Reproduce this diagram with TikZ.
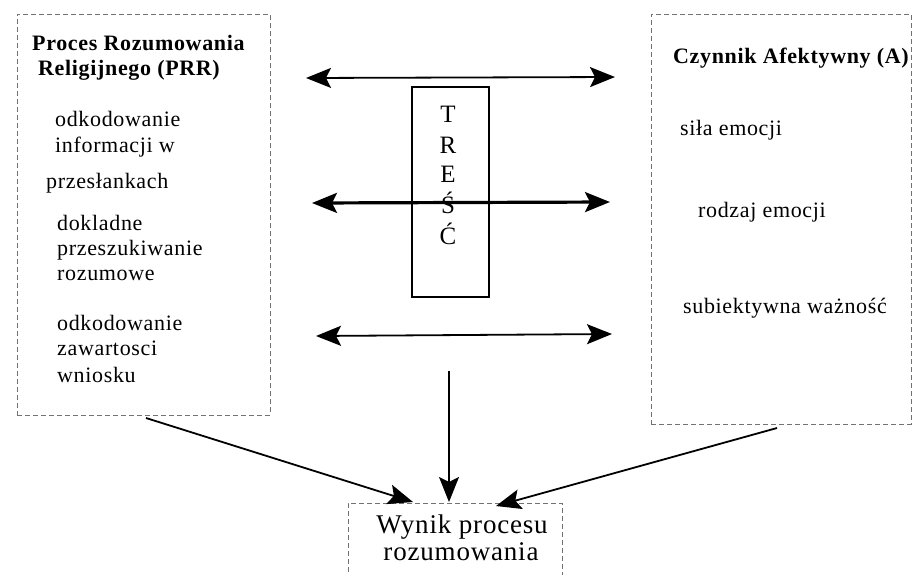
\documentclass[tikz,border=0pt]{standalone}
\usepackage{fontspec}
\setmainfont{Liberation Serif}
\usetikzlibrary{arrows.meta}
\begin{document}
\begin{tikzpicture}[x=1pt,y=-1pt,
  >={Stealth[length=25pt,width=20pt,inset=5pt]},
  box/.style={draw=black!55, dash pattern=on 5pt off 3pt, line width=0.6pt, inner sep=0pt},
  txt/.style={anchor=base west, inner sep=0pt, font=\fontsize{22}{25}\selectfont\addfontfeature{LetterSpace=3}},
  head/.style={anchor=base west, inner sep=0pt, font=\fontsize{22}{25}\selectfont\bfseries\addfontfeature{LetterSpace=3}},
  letter/.style={anchor=base, inner sep=0pt, font=\fontsize{25}{28}\selectfont},
  res/.style={anchor=base, inner sep=0pt, font=\fontsize{27}{30}\selectfont\addfontfeature{LetterSpace=3}},
  arr/.style={line width=1.8pt},
]
\useasboundingbox (0,0) rectangle (913,574);
\clip (0,0) rectangle (913,574);

% boxes
\node[box, minimum width=253pt, minimum height=401pt] (L) at (143.5,214.5) {};
\node[box, minimum width=260pt, minimum height=410pt] (R) at (781,219) {};
\node[box, minimum width=214pt, minimum height=100pt] (W) at (455,553) {};
\node[draw, line width=1.2pt, minimum width=77pt, minimum height=210pt, inner sep=0pt] (T) at (450.5,192) {};

% left box texts
\node[head] (l1) at (32,50) {Proces Rozumowania};
\node[head] (l2) at (38,75) {Religijnego (PRR)};
\node[txt] (l3) at (55,126) {odkodowanie};
\node[txt] (l4) at (55,152) {informacji w};
\node[txt] (l5) at (46,188) {przesłankach};
\node[txt] (l6) at (57,230) {dokladne};
\node[txt] (l7) at (57,255) {przeszukiwanie};
\node[txt] (l8) at (57,280) {rozumowe};
\node[txt] (l9) at (57,330) {odkodowanie};
\node[txt] (l10) at (57,355) {zawartosci};
\node[txt] (l11) at (57,382) {wniosku};

% right box texts
\node[head] (r1) at (673,63) {Czynnik Afektywny (A)};
\node[txt] (r2) at (680,135) {siła emocji};
\node[txt] (r3) at (698,217) {rodzaj emocji};
\node[txt] (r4) at (683,313) {subiektywna ważność};

% TREŚĆ
\node[letter] (t1) at (448,122) {T};
\node[letter] (t2) at (448,153) {R};
\node[letter] (t3) at (448,182) {E};
\node[letter] (t4) at (448,213) {Ś};
\node[letter] (t5) at (448,244) {Ć};

% result texts
\node[res] (w1) at (462,533) {Wynik procesu};
\node[res] (w2) at (461,560) {rozumowania};

% connector end points
\coordinate (a1) at (306,78);  \coordinate (b1) at (615,77);
\coordinate (a2) at (312,203); \coordinate (b2) at (610,202);
\coordinate (a3) at (316,336); \coordinate (b3) at (612,334);
\coordinate (c1) at (146,418); \coordinate (d1) at (413,502);
\coordinate (c2) at (449,371); \coordinate (d2) at (449,502);
\coordinate (c3) at (777,428); \coordinate (d3) at (496,506);

% connectors
\draw[arr, <->] (a1) -- (b1);
\draw[arr, line width=3.2pt, <->] (a2) -- (b2);
\draw[arr, <->] (a3) -- (b3);
\draw[arr, ->] (c1) -- (d1);
\draw[arr, line width=1.4pt, ->] (c2) -- (d2);
\draw[arr, ->] (c3) -- (d3);
\end{tikzpicture}
\end{document}
